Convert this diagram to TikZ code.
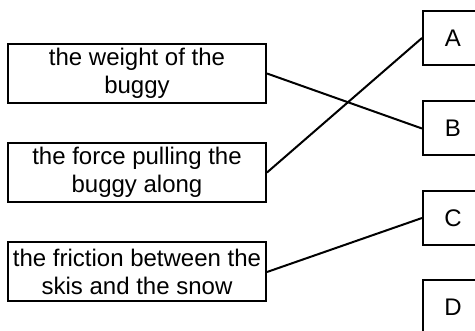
\documentclass[tikz,border=0pt]{standalone}
\usepackage{fontspec}
\setmainfont{Liberation Sans}
\usetikzlibrary{positioning}

\begin{document}
\begin{tikzpicture}[x=1pt,y=-1pt,line width=2pt,
        font=\fontsize{24}{27.5}\selectfont]
        \tikzstyle{quantity}=[draw,align=center,minimum width=258pt,minimum height=59pt,inner sep=0pt]
        \tikzstyle{letter}=[draw,minimum width=60pt,minimum height=54pt,inner sep=0pt]
  \useasboundingbox (0,0) rectangle (475,331);
  \node[quantity] (weight) at (137,73.5) {the weight of the\\buggy};
  \node[quantity] (pull) at (137,172.5) {the force pulling the\\buggy along};
  \node[quantity] (friction) at (137,272) {the friction between the\\skis and the snow};
  \node[letter] (A) at (453,38) {A};
  \node[letter] (B) at (453,128.5) {B};
  \node[letter] (C) at (453,218) {C};
  \node[letter] (D) at (453,307) {D};

  \draw (weight.east) -- (B.west);
  \draw (pull.east) -- (A.west);
  \draw (friction.east) -- (C.west);

\end{tikzpicture}
\end{document}
